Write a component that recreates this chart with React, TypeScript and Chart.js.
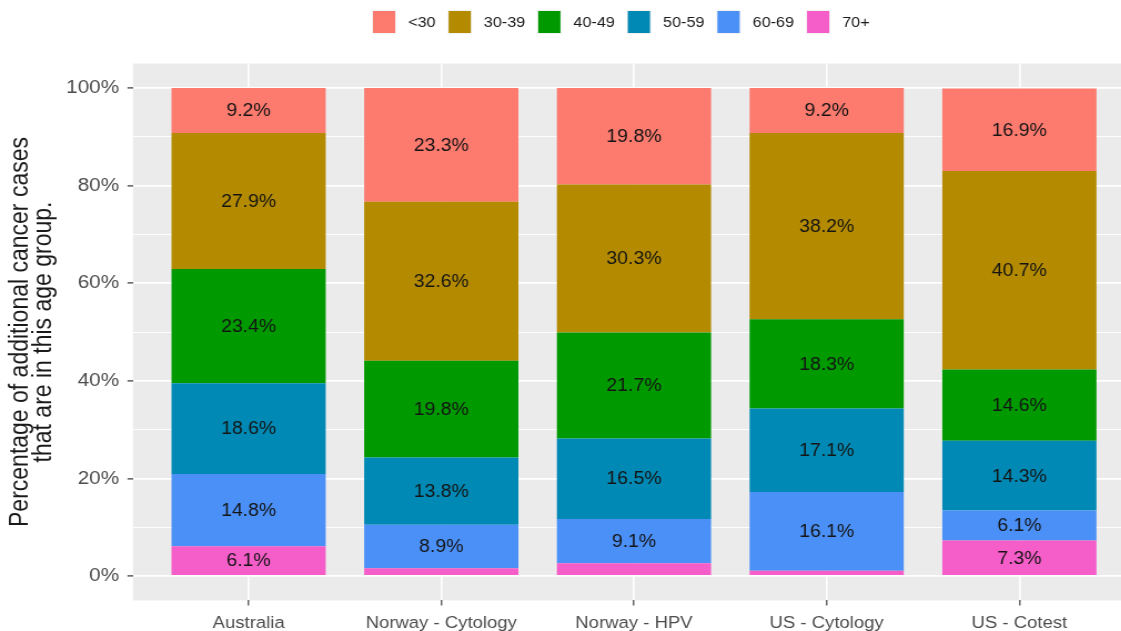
import React, { useEffect, useRef } from 'react';
import { Chart, registerables } from 'chart.js';

Chart.register(...registerables);

// ---- Data ----
const categories = ['Australia', 'Norway - Cytology', 'Norway - HPV', 'US - Cytology', 'US - Cotest'];
const ageGroups = ['<30', '30-39', '40-49', '50-59', '60-69', '70+'];

const under30 = [9.2, 23.3, 19.8, 9.2, 16.9];
const age30to39 = [27.9, 32.6, 30.3, 38.2, 40.7];
const age40to49 = [23.4, 19.8, 21.7, 18.3, 14.6];
const age50to59 = [18.6, 13.8, 16.5, 17.1, 14.3];
const age60to69 = [14.8, 8.9, 9.1, 16.1, 6.1];
const age70plus = [6.1, 1.6, 2.6, 1.1, 7.3];

const seriesValues = [under30, age30to39, age40to49, age50to59, age60to69, age70plus];
const seriesColors = ['#FC7A6E', '#B38A00', '#009900', '#0089B4', '#4B90F7', '#F55DC8'];

const yTickValues = [0, 20, 40, 60, 80, 100];
const yTickLabels = ['0%', '20%', '40%', '60%', '80%', '100%'];
const yMinorValues = [10, 30, 50, 70, 90];

const yTitle = ['Percentage of additional cancer cases', 'that are in this age group.'];

// ---- Layout constants ----
const STRETCH = 1.11;
const CANVAS_W = 1030;
const CANVAS_H = 631;
const FONT = '"Liberation Sans", Arial, Helvetica, sans-serif';

const panelBackground = {
  id: 'panelBackground',
  beforeDraw(chart: any) {
    const { ctx, chartArea: a } = chart;
    ctx.save();
    ctx.fillStyle = '#EBEBEB';
    ctx.fillRect(a.left, a.top, a.right - a.left, a.bottom - a.top);
    ctx.restore();
  },
};

const barLabels = {
  id: 'barLabels',
  afterDatasetsDraw(chart: any) {
    const { ctx } = chart;
    ctx.save();
    ctx.font = `17.5px ${FONT}`;
    ctx.fillStyle = '#141414';
    ctx.textAlign = 'center';
    ctx.textBaseline = 'middle';
    chart.data.datasets.forEach((ds: any, di: number) => {
      const meta = chart.getDatasetMeta(di);
      meta.data.forEach((el: any, j: number) => {
        const v = ds.data[j].y;
        if (v < 3) return;
        ctx.fillText(`${v.toFixed(1)}%`, el.x, (el.y + el.base) / 2 + 1);
      });
    });
    ctx.restore();
  },
};

const topLegend = {
  id: 'topLegend',
  afterDraw(chart: any) {
    const { ctx } = chart;
    ctx.save();
    ctx.font = `14.6px ${FONT}`;
    ctx.textBaseline = 'middle';
    ctx.textAlign = 'left';
    let x = 336;
    ageGroups.forEach((g, i) => {
      ctx.fillStyle = '#F2F2F2';
      ctx.fillRect(x - 1, 10, 22, 24);
      ctx.fillStyle = seriesColors[i];
      ctx.fillRect(x, 11, 20, 22);
      ctx.fillStyle = '#1A1A1A';
      ctx.fillText(g, x + 31.7, 22.5);
      x += 31.7 + ctx.measureText(g).width + 11.7;
    });
    ctx.restore();
  },
};

export default function App() {
  const ref = useRef<HTMLCanvasElement | null>(null);

  useEffect(() => {
    if (!ref.current) return;
    // stack bottom-up: 70+ first, <30 last
    const order = [5, 4, 3, 2, 1, 0];
    const chart = new Chart(ref.current, {
      type: 'bar',
      data: {
        datasets: order.map((si) => ({
          label: ageGroups[si],
          data: seriesValues[si].map((v, i) => ({ x: i, y: v })),
          backgroundColor: seriesColors[si],
          borderWidth: 0,
          barPercentage: 0.8,
          categoryPercentage: 1,
        })),
      },
      options: {
        responsive: false,
        maintainAspectRatio: false,
        animation: false,
        layout: { padding: { top: 63.6, right: 7.5, left: 0, bottom: 0 } },
        plugins: {
          legend: { display: false },
          tooltip: { enabled: false },
        },
        scales: {
          x: {
            type: 'linear',
            min: -0.6,
            max: 4.6,
            stacked: true,
            offset: false,
            afterBuildTicks: (s: any) => {
              s.ticks = categories.map((_, i) => ({ value: i }));
            },
            afterFit: (s: any) => {
              s.height = 30.6;
            },
            grid: {
              offset: false,
              color: '#FFFFFF',
              lineWidth: 1.6,
              tickColor: '#333333',
              tickLength: 5,
              tickWidth: 1.1,
            },
            border: { display: false },
            ticks: {
              autoSkip: false,
              maxRotation: 0,
              padding: 8,
              color: '#4D4D4D',
              font: { family: FONT, size: 16.7 },
              callback: (v: any) => categories[v] ?? '',
            },
          },
          y: {
            type: 'linear',
            min: -5,
            max: 105,
            stacked: true,
            afterBuildTicks: (s: any) => {
              s.ticks = [...yTickValues, ...yMinorValues]
                .sort((a, b) => a - b)
                .map((v) => ({ value: v }));
            },
            afterFit: (s: any) => {
              s.width = 119.8;
            },
            grid: {
              color: '#FFFFFF',
              lineWidth: (c: any) => (yTickValues.includes(c.tick?.value) ? 1.8 : 0.9),
              tickColor: (c: any) => (yTickValues.includes(c.tick?.value) ? '#333333' : 'rgba(0,0,0,0)'),
              tickLength: 5,
              tickWidth: 1.2,
            },
            border: { display: false },
            ticks: {
              autoSkip: false,
              padding: 7.5,
              color: '#4D4D4D',
              font: { family: FONT, size: 18.7 },
              callback: (v: any) => {
                const idx = yTickValues.indexOf(v);
                return idx >= 0 ? yTickLabels[idx] : '';
              },
            },
            title: {
              display: true,
              text: yTitle,
              color: '#1A1A1A',
              font: { family: FONT, size: 23, lineHeight: 0.88 },
              padding: { top: 9, bottom: 0 },
            },
          },
        },
      },
      plugins: [panelBackground, barLabels, topLegend],
    } as any);
    return () => chart.destroy();
  }, []);

  return (
    <div
      style={{
        position: 'fixed',
        left: 0,
        top: 0,
        width: '100vw',
        height: '100vh',
        overflow: 'hidden',
        background: '#FFFFFF',
      }}
    >
      <div
        style={{
          width: CANVAS_W,
          height: CANVAS_H,
          transform: `scaleX(${STRETCH})`,
          transformOrigin: '0 0',
        }}
      >
        <canvas
          ref={ref}
          width={CANVAS_W}
          height={CANVAS_H}
          style={{ display: 'block', width: CANVAS_W, height: CANVAS_H }}
        />
      </div>
    </div>
  );
}
